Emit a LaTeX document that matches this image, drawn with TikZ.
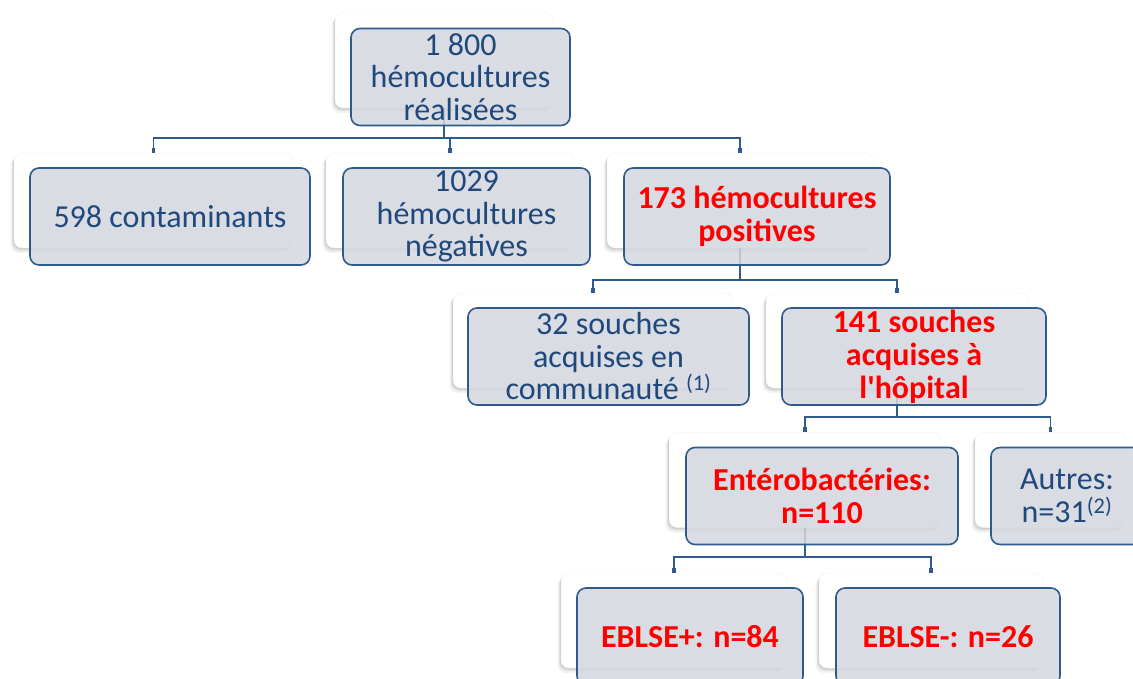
\documentclass[tikz,border=0pt]{standalone}
\usepackage{fontspec}
\setmainfont{Carlito}
\newfontfamily\carl{Carlito}
\usetikzlibrary{shadows,arrows.meta}
\definecolor{txtblue}{HTML}{1F497D}
\definecolor{lineblue}{HTML}{2F5B8C}
\definecolor{boxfill}{HTML}{D4D7DF}
\definecolor{redtxt}{HTML}{FF0000}
\tikzset{
 backbox/.style={draw=black!6, line width=0.4pt, fill=white, rounded corners=8pt, minimum height=95pt, inner sep=0pt,
   drop shadow={shadow xshift=-1pt, shadow yshift=-1.5pt, opacity=0.18},
   drop shadow={shadow xshift=-2pt, shadow yshift=-3pt, opacity=0.16},
   drop shadow={shadow xshift=-3.5pt, shadow yshift=-5pt, opacity=0.1}},
 frontbox/.style={draw=lineblue, line width=1.6pt, fill=boxfill, fill opacity=0.85, text opacity=1,
   rounded corners=9pt, minimum height=97pt, inner sep=0pt, align=center, text=txtblue,
   font=\carl\fontsize{32}{32.5}\selectfont},
 redbold/.style={text=redtxt, font=\carl\fontsize{32}{33}\selectfont\bfseries},
 conn/.style={draw=lineblue, line width=1.6pt, -{Rectangle[length=5pt,width=3.4pt]}},
}
\begin{document}
\begin{tikzpicture}[x=1pt,y=-1pt]
\useasboundingbox (0,0) rectangle (1133,679);
\clip (0,0) rectangle (1133,679);
% back boxes
\node[backbox, minimum width=218pt] (b1) at (444,60.5) {};
\node[backbox, minimum width=279pt] (b2a) at (153.5,200.5) {};
\node[backbox, minimum width=248pt] (b2b) at (450,200.5) {};
\node[backbox, minimum width=266pt] (b2c) at (740,200.5) {};
\node[backbox, minimum width=280pt] (b3a) at (593,340.5) {};
\node[backbox, minimum width=262pt] (b3b) at (897,340.5) {};
\node[backbox, minimum width=272pt] (b4a) at (805,480) {};
\node[backbox, minimum width=151pt] (b4b) at (1050.5,480) {};
\node[backbox, minimum width=226pt] (b5a) at (674,620.5) {};
\node[backbox, minimum width=224pt] (b5b) at (931,620.5) {};
% connectors
\draw[conn] (b1.south) -- ++(0,30) -| (b2a.north);
\draw[conn] (b1.south) -- ++(0,30) -| (b2b.north);
\draw[conn] (b1.south) -- ++(0,30) -| (b2c.north);
\draw[conn] (b2c.south) -- ++(0,32) -| (b3a.north);
\draw[conn] (b2c.south) -- ++(0,32) -| (b3b.north);
\draw[conn] (b3b.south) -- ++(0,29) -| (b4a.north);
\draw[conn] (b3b.south) -- ++(0,29) -| (b4b.north);
\draw[conn] (b4a.south) -- ++(0,29) -| (b5a.north);
\draw[conn] (b4a.south) -- ++(0,29) -| (b5b.north);
% front boxes
\node[frontbox, minimum width=219pt] (f1) at (460.5,77) {1 800\\hémocultures\\réalisées};
\node[frontbox, minimum width=280pt] (f2a) at (170,216.5) {598 contaminants};
\node[frontbox, minimum width=247pt] (f2b) at (466.5,216.5) {1029\\hémocultures\\négatives};
\node[frontbox, redbold, minimum width=266pt] (f2c) at (757,216.5) {173 hémocultures\\positives};
\node[frontbox, minimum width=281pt] (f3a) at (608.5,356.5) {32 souches\\acquises en\\communauté \textsuperscript{(1)}};
\node[frontbox, redbold, minimum width=264pt] (f3b) at (914,356.5) {141 souches\\acquises à\\l'hôpital};
\node[frontbox, redbold, minimum width=272pt] (f4a) at (822,496) {Entérobactéries:\\n=110};
\node[frontbox, minimum width=152pt] (f4b) at (1067,496) {Autres:\\n=31\textsuperscript{(2)}};
\node[frontbox, redbold, minimum width=226pt] (f5a) at (690,636.5) {EBLSE+: n=84};
\node[frontbox, redbold, minimum width=224pt] (f5b) at (948,636.5) {EBLSE-: n=26};
\end{tikzpicture}
\end{document}
